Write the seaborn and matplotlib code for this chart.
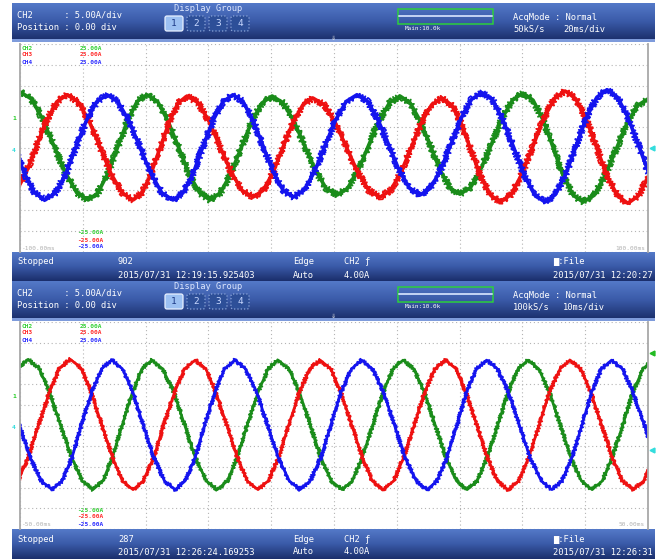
import numpy as np
import pandas as pd
import matplotlib.pyplot as plt
import seaborn as sns
from matplotlib.colors import LinearSegmentedColormap
from matplotlib.patches import Rectangle, FancyBboxPatch

sns.set_style("white")
plt.rcParams['font.family'] = ['DejaVu Sans Mono', 'DejaVu Sans']

# --- waveform points (time in ms, current in A) ---
# top capture: 20 ms/div
top_ch2_t = [-100, -96.4, -92.8, -89.2, -85.5, -81.9, -78.3, -75.2, -72.1, -68.9, -65.8, -62.7,
             -59.6, -56.2, -52.9, -49.5, -46.2, -42.8, -39.5, -36.2, -32.9, -29.6, -26.3, -23.0,
             -19.7, -16.3, -12.8, -9.4, -5.9, -2.5, 1.0, 4.3, 7.7, 11.0, 14.3, 17.7,
             21.0, 24.2, 27.4, 30.6, 33.7, 36.9, 40.1, 43.5, 46.8, 50.2, 53.5, 56.9,
             60.2, 63.4, 66.6, 69.8, 72.9, 76.1, 79.3, 82.8, 86.2, 89.7, 93.1, 96.6, 100]
top_ch2_i = [13.5, 11.8, 7.0, 0.5, -6.0, -10.8, -12.5, -10.8, -6.2, 0.2, 6.5, 11.2,
             12.8, 11.2, 6.5, 0.2, -6.2, -10.8, -12.5, -10.8, -6.2, 0, 6.2, 10.8,
             12.5, 10.9, 6.5, 0.6, -5.4, -9.7, -11.3, -9.7, -5.4, 0.6, 6.5, 10.9,
             12.5, 10.9, 6.6, 0.7, -5.2, -9.6, -11.1, -9.5, -5.0, 1.0, 7.1, 11.6,
             13.2, 11.5, 6.7, 0.1, -6.5, -11.3, -13.0, -11.4, -6.8, -0.6, 5.6, 10.2, 11.8]
top_ch3_t = [-101.5, -98.2, -94.9, -91.6, -88.3, -85.0, -81.5, -78.0, -74.5, -71.0, -67.5, -64.0,
             -61.1, -58.3, -55.4, -52.5, -49.7, -46.8, -43.3, -39.8, -36.3, -32.8, -29.3, -25.8,
             -22.6, -19.4, -16.3, -13.1, -9.9, -6.7, -3.1, 0.4, 4.0, 7.6, 11.1, 14.7,
             18.0, 21.3, 24.6, 27.8, 31.1, 34.4, 37.5, 40.6, 43.6, 46.7, 49.8, 52.9,
             56.4, 59.8, 63.3, 66.7, 70.2, 73.6, 76.9, 80.3, 83.6, 86.9, 90.3, 93.6, 96.9, 100.3]
top_ch3_i = [-10.8, -6.2, 0.2, 6.5, 11.1, 12.8, 11.1, 6.5, 0.2, -6.2, -10.8, -12.5,
             -10.8, -6.2, 0, 6.2, 10.8, 12.5, 10.9, 6.4, 0.3, -5.7, -10.2, -11.8,
             -10.2, -5.9, 0.1, 6.1, 10.4, 12.0, 10.4, 6.1, 0.1, -5.9, -10.2, -11.8,
             -10.2, -5.9, 0.1, 6.1, 10.4, 12.0, 10.3, 5.8, -0.5, -6.8, -11.3, -13.0,
             -11.2, -6.3, 0.3, 7.0, 11.9, 13.7, 11.9, 7.0, 0.2, -6.6, -11.5, -13.3, -11.5, -6.7]
top_ch4_t = [-101.9, -98.6, -95.3, -92.0, -88.7, -85.4, -82.2, -78.9, -75.6, -72.3,
             -68.8, -65.3, -61.8, -58.3, -54.8, -51.3, -48.1, -44.9, -41.8, -38.6, -35.4, -32.2,
             -29.0, -25.8, -22.6, -19.4, -16.2, -13.0, -9.6, -6.2, -2.9, 0.5, 3.9, 7.3,
             10.7, 14.0, 17.4, 20.7, 24.1, 27.4, 30.7, 34.0, 37.3, 40.5, 43.8, 47.1,
             50.5, 53.8, 57.2, 60.5, 63.9, 67.2, 70.5, 73.8, 77.1, 80.4, 83.7, 87.0,
             90.3, 93.6, 96.9, 100.2]
top_ch4_i = [0.3, -6.1, -10.8, -12.5, -10.8, -6.2, 0.2, 6.5, 11.1, 12.8,
             11.1, 6.5, 0.2, -6.2, -10.8, -12.5, -10.8, -6.2, 0.2, 6.5, 11.1, 12.8,
             11.2, 6.7, 0.5, -5.7, -10.2, -11.8, -10.2, -5.7, 0.5, 6.7, 11.2, 12.8,
             11.2, 6.8, 0.8, -5.3, -9.7, -11.3, -9.7, -5.2, 1.0, 7.2, 11.7, 13.3,
             11.6, 6.7, 0.2, -6.4, -11.3, -13.0, -11.2, -6.3, 0.5, 7.3, 12.2, 14.0,
             12.2, 7.4, 0.8, -5.9]

# bottom capture: 10 ms/div
bot_ch2_t = [-52.1, -50.4, -48.7, -47.0, -45.3, -43.6, -41.8, -40.1, -38.4,
             -36.8, -35.3, -33.7, -32.1, -30.6, -29.0, -27.3, -25.5, -23.8, -22.1, -20.3, -18.6,
             -17.0, -15.4, -13.8, -12.1, -10.5, -8.9, -7.2, -5.5, -3.8, -2.1, -0.4, 1.3,
             2.9, 4.5, 6.2, 7.8, 9.4, 11.0, 12.7, 14.4, 16.1, 17.8, 19.5, 21.2,
             22.8, 24.4, 26.1, 27.7, 29.3, 30.9, 32.6, 34.3, 36.0, 37.7, 39.4, 41.1,
             42.7, 44.3, 46.0, 47.6, 49.2, 50.8]
bot_ch2_i = [8.1, 13.9, 16.0, 13.9, 8.1, 0.3, -7.6, -13.4, -15.5,
             -13.4, -7.7, 0.2, 8.0, 13.7, 15.8, 13.7, 8.0, 0.2, -7.7, -13.4, -15.5,
             -13.4, -7.7, 0.2, 8.0, 13.7, 15.8, 13.7, 8.0, 0.2, -7.7, -13.4, -15.5,
             -13.4, -7.7, 0.2, 8.0, 13.7, 15.8, 13.7, 8.0, 0.2, -7.7, -13.4, -15.5,
             -13.4, -7.7, 0.2, 8.0, 13.7, 15.8, 13.7, 8.0, 0.2, -7.7, -13.4, -15.5,
             -13.4, -7.7, 0.2, 8.0, 13.7, 15.8]
bot_ch3_t = [-52.0, -50.3, -48.7, -47.0, -45.3, -43.7, -42.0,
             -40.3, -38.7, -37.0, -35.3, -33.7, -32.0, -30.4, -28.7, -27.1, -25.4, -23.8, -22.1,
             -20.4, -18.8, -17.1, -15.4, -13.8, -12.1, -10.5, -8.8, -7.2, -5.5, -3.9, -2.2,
             -0.5, 1.1, 2.8, 4.5, 6.1, 7.8, 9.5, 11.1, 12.8, 14.4, 16.1, 17.7,
             19.4, 21.0, 22.7, 24.4, 26.0, 27.7, 29.4, 31.0, 32.7, 34.3, 36.0, 37.6,
             39.3, 40.9, 42.6, 44.3, 45.9, 47.6, 49.3, 50.9]
bot_ch3_i = [-15.5, -13.4, -7.6, 0.3, 8.1, 13.9, 16.0,
             13.9, 8.1, 0.3, -7.6, -13.4, -15.5, -13.4, -7.7, 0.2, 8.0, 13.7, 15.8,
             13.7, 8.0, 0.2, -7.7, -13.4, -15.5, -13.4, -7.7, 0.2, 8.0, 13.7, 15.8,
             13.7, 8.0, 0.2, -7.7, -13.4, -15.5, -13.4, -7.7, 0.2, 8.0, 13.7, 15.8,
             13.7, 8.0, 0.2, -7.7, -13.4, -15.5, -13.4, -7.7, 0.2, 8.0, 13.7, 15.8,
             13.7, 8.0, 0.2, -7.7, -13.4, -15.5, -13.4, -7.7]
bot_ch4_t = [-51.8, -50.1, -48.4, -46.6, -44.9,
             -43.3, -41.7, -40.2, -38.6, -37.0, -35.4, -33.7, -32.0, -30.4, -28.7, -27.0, -25.3,
             -23.7, -22.1, -20.6, -19.0, -17.4, -15.8, -14.1, -12.3, -10.6, -8.9, -7.1, -5.4,
             -3.8, -2.1, -0.5, 1.1, 2.8, 4.4, 6.1, 7.9, 9.6, 11.3, 13.1, 14.8,
             16.4, 18.0, 19.6, 21.1, 22.7, 24.3, 26.0, 27.8, 29.5, 31.2, 33.0, 34.7,
             36.3, 37.9, 39.5, 41.0, 42.6, 44.2, 45.9, 47.6, 49.4, 51.1]
bot_ch4_i = [8.0, 0.2, -7.7, -13.4, -15.5,
             -13.4, -7.7, 0.2, 8.0, 13.7, 15.8, 13.7, 8.0, 0.2, -7.7, -13.4, -15.5,
             -13.4, -7.7, 0.2, 8.0, 13.7, 15.8, 13.7, 8.0, 0.2, -7.7, -13.4, -15.5,
             -13.4, -7.7, 0.2, 8.0, 13.7, 15.8, 13.7, 8.0, 0.2, -7.7, -13.4, -15.5,
             -13.4, -7.7, 0.2, 8.0, 13.7, 15.8, 13.7, 8.0, 0.2, -7.7, -13.4, -15.5,
             -13.4, -7.7, 0.2, 8.0, 13.7, 15.8, 13.7, 8.0, 0.2, -7.7]

channels = ['CH2', 'CH3', 'CH4']
wave_colors = {'CH2': '#1a8c1a', 'CH3': '#ee1111', 'CH4': '#1414ee'}
label_colors = ['#2fd02f', '#ff2a2a', '#2a2aff']


def make_df(ts, vals):
    frames = []
    for ch, t, v in zip(channels, ts, vals):
        frames.append(pd.DataFrame({'t': t, 'i': v, 'ch': ch}))
    return pd.concat(frames, ignore_index=True)


panels = [
    dict(hdr=(3, 40), plot=(44, 252), ftr=(252, 281), xlim=(-100, 100), noise=3.2, core=2.6,
         df=make_df([top_ch2_t, top_ch3_t, top_ch4_t], [top_ch2_i, top_ch3_i, top_ch4_i]),
         rate='50kS/s', tdiv='20ms/div', left='-100.00ms', right='100.00ms',
         count='902', stamp='2015/07/31 12:19:15.925403', saved='2015/07/31 12:20:27',
         marks=[(148, '#33dddd')]),
    dict(hdr=(281, 319), plot=(322, 529), ftr=(529, 559), xlim=(-50, 50), noise=1.8, core=1.9,
         df=make_df([bot_ch2_t, bot_ch3_t, bot_ch4_t], [bot_ch2_i, bot_ch3_i, bot_ch4_i]),
         rate='100kS/s', tdiv='10ms/div', left='-50.00ms', right='50.00ms',
         count='287', stamp='2015/07/31 12:26:24.169253', saved='2015/07/31 12:26:31',
         marks=[(353, '#22bb22'), (450, '#33dddd')]),
]

W, H = 667, 559
fig = plt.figure(figsize=(W / 100, H / 100), dpi=100)
fig.patch.set_facecolor('white')

bg = fig.add_axes([0, 0, 1, 1], zorder=0)
bar_cmap = LinearSegmentedColormap.from_list('bar', ['#5479c8', '#3a5aa8', '#1b2f6c'])
grad = np.linspace(0, 1, 64).reshape(-1, 1)


def txt(x, y, s, size=6.3, color='white', **kw):
    bg.text(x, y, s, fontsize=size, color=color, va='center', ha=kw.pop('ha', 'left'),
            family=['DejaVu Sans Mono', 'DejaVu Sans'], **kw)


for p in panels:
    h0, h1 = p['hdr']
    f0, f1 = p['ftr']
    y0, y1 = p['plot']
    bg.imshow(grad, extent=[12, 655, h1, h0], cmap=bar_cmap, aspect='auto', zorder=1)
    bg.imshow(grad, extent=[12, 655, f1, f0], cmap=bar_cmap, aspect='auto', zorder=1)
    bg.add_patch(Rectangle((12, h1 - 1), 643, 3, color='#7e9bdb', zorder=2, lw=0))

    # header text
    txt(17, h0 + 12.5, 'CH2      : 5.00A/div')
    txt(17, h0 + 24, 'Position : 0.00 div')
    txt(208, h0 + 5.5, 'Display Group', ha='center', color='#dfe8ff')
    for k, lab in enumerate(['1', '2', '3', '4']):
        bx = 165 + k * 22
        first = k == 0
        bg.add_patch(FancyBboxPatch((bx, h0 + 13), 18, 15, boxstyle='round,pad=0,rounding_size=2',
                                    fc='#9cc0f2' if first else '#2d4f98',
                                    ec='#e8f0ff' if first else '#8aa4d8',
                                    lw=0.9, ls='-' if first else ':', zorder=3))
        txt(bx + 9, h0 + 20.5, lab, size=6.8, ha='center',
            color='#1d3a86' if first else '#c8d8ff', zorder=4)
    bg.add_patch(Rectangle((398, h0 + 6), 95, 15, fill=False, ec='#2ccf3c', lw=1.1, zorder=3))
    bg.plot([399, 492], [h0 + 13, h0 + 13], color='#c4d4f4', lw=1.4, zorder=3)
    txt(405, h0 + 25.5, 'Main:10.0k', size=4.3)
    txt(513, h0 + 14, 'AcqMode : Normal')
    txt(513, h0 + 25.5, p['rate'])
    txt(563, h0 + 25.5, p['tdiv'])
    txt(333, h1 - 3, '⇓', size=6, ha='center', color='#e6e6e6', zorder=4)

    # footer text
    txt(17, f0 + 10, 'Stopped')
    txt(118, f0 + 10, p['count'])
    txt(118, f0 + 23, p['stamp'])
    txt(293, f0 + 10, 'Edge')
    txt(293, f0 + 23, 'Auto')
    txt(344, f0 + 10, 'CH2 ƒ')
    txt(344, f0 + 23, '4.00A')
    txt(553, f0 + 10, '▆:File')
    txt(553, f0 + 23, p['saved'])

    # channel scale labels inside the screen
    for k, ch in enumerate(channels):
        txt(21, y0 + 4 + 7 * k, ch, size=4.4, color=label_colors[k], weight='bold')
        txt(80, y0 + 4 + 7 * k, '25.00A', size=4.4, color=label_colors[k], weight='bold')
        txt(77, y1 - 19 + 7 * k, '-25.00A', size=4.4, color=label_colors[k], weight='bold')
    txt(22, y1 - 4, p['left'], size=4.4, color='#b0b0b0')
    txt(645, y1 - 4, p['right'], size=4.4, color='#b0b0b0', ha='right')

    # level markers left / right of the screen
    mid = (y0 + y1) / 2
    txt(12, mid - 29, '1', size=4.6, color='#22cc22', weight='bold')
    txt(12, mid + 2, '4', size=4.6, color='#33dddd', weight='bold')
    for my, mc in p['marks']:
        bg.plot([652], [my], marker='<', ms=3.5, color=mc, zorder=4)

bg.set_xlim(0, W)
bg.set_ylim(H, 0)
bg.axis('off')

# --- the two scope screens ---
for p in panels:
    y0, y1 = p['plot']
    ax = fig.add_axes([20 / W, 1 - y1 / H, 628 / W, (y1 - y0) / H], zorder=1)
    ax.set_facecolor('none')
    for ch in channels:
        part = p['df'][p['df']['ch'] == ch]
        # fuzzy noise band, then the solid trace core
        sns.lineplot(data=part, x='t', y='i', color=wave_colors[ch], estimator=None,
                     sort=False, lw=1.3, ax=ax)
        ax.get_lines()[-1].set_sketch_params(scale=p['noise'], length=1.0, randomness=3)
        sns.lineplot(data=part, x='t', y='i', color=wave_colors[ch], estimator=None,
                     sort=False, lw=p['core'], ax=ax)
        ax.get_lines()[-1].set_solid_joinstyle('round')
    x0, x1 = p['xlim']
    ax.set_xlim(x0, x1)
    ax.set_ylim(-25, 25)
    ax.set_xticks(np.linspace(x0, x1, 11))
    ax.set_yticks(np.arange(-25, 26, 5))
    ax.grid(True, color='#b4b4b4', lw=0.8, ls=(0, (1, 2.5)))
    ax.tick_params(length=0, labelleft=False, labelbottom=False)
    ax.set_xlabel('')
    ax.set_ylabel('')
    for side in ['top', 'bottom']:
        ax.spines[side].set_visible(False)
    for side in ['left', 'right']:
        ax.spines[side].set_color('#a8a8a8')
        ax.spines[side].set_linewidth(1.3)

plt.savefig('out.png', dpi=100)
